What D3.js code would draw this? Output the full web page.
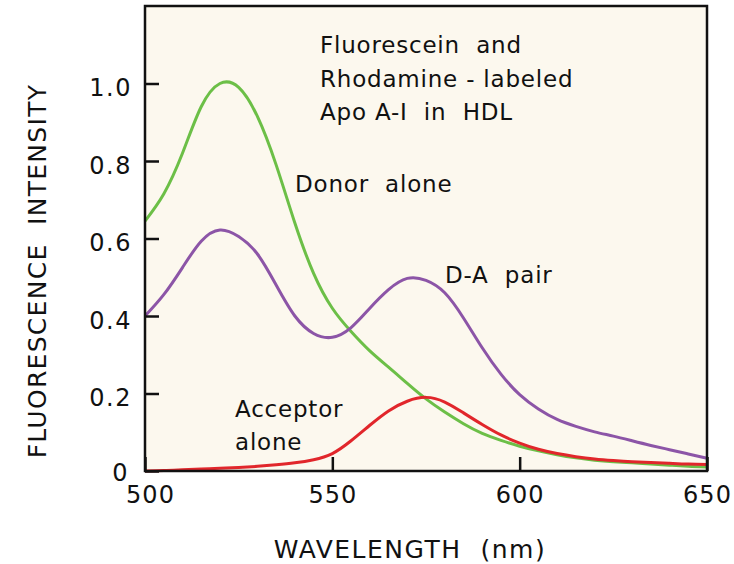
<!DOCTYPE html>
<html>
<head>
<meta charset="utf-8">
<script src="https://cdn.jsdelivr.net/npm/d3@7"></script>
<style>
  html, body { margin: 0; padding: 0; background: #fff; }
  svg { display: block; }
  text { font-family: "DejaVu Sans", sans-serif; fill: #111; white-space: pre; }
</style>
</head>
<body>
<script>
// wavelength grid (nm)
const wavelengths = [500, 505, 510, 515, 520, 525, 530, 535, 540, 545, 550, 555, 560, 565,
  570, 575, 580, 585, 590, 595, 600, 605, 610, 615, 620, 625, 630, 635, 640, 645, 650];

// donor alone (fluorescein)
const donorAlone = [0.645, 0.715, 0.82, 0.94, 1.0, 0.99, 0.915, 0.79, 0.64, 0.51, 0.42, 0.36,
  0.31, 0.268, 0.226, 0.186, 0.152, 0.122, 0.097, 0.079, 0.064, 0.052, 0.042, 0.034, 0.028,
  0.024, 0.021, 0.018, 0.015, 0.012, 0.010];

// donor-acceptor pair
const daPair = [0.40, 0.455, 0.525, 0.593, 0.622, 0.605, 0.56, 0.48, 0.40, 0.355, 0.345, 0.37,
  0.42, 0.468, 0.497, 0.492, 0.46, 0.395, 0.318, 0.25, 0.197, 0.16, 0.133, 0.115, 0.101, 0.09,
  0.078, 0.066, 0.055, 0.044, 0.033];

// acceptor alone (rhodamine)
const acceptorAlone = [0.0, 0.001, 0.003, 0.005, 0.007, 0.009, 0.012, 0.016, 0.021, 0.029, 0.045,
  0.078, 0.118, 0.155, 0.18, 0.19, 0.178, 0.15, 0.12, 0.093, 0.072, 0.056, 0.045, 0.037, 0.031,
  0.027, 0.024, 0.022, 0.02, 0.018, 0.017];

const xTicks = [500, 550, 600, 650];
const yTicks = [0, 0.2, 0.4, 0.6, 0.8, 1.0];

const series = [
  { name: 'Donor alone', values: donorAlone, color: '#6cbf47' },
  { name: 'D-A pair', values: daPair, color: '#8c55a7' },
  { name: 'Acceptor alone', values: acceptorAlone, color: '#e1262b' }
];

const width = 734, height = 564;
const plot = { left: 145, right: 707, top: 6, bottom: 471 };

const svg = d3.select('body').append('svg')
  .attr('width', width)
  .attr('height', height);

const x = d3.scaleLinear().domain([500, 650]).range([plot.left, plot.right]);
const y = d3.scaleLinear().domain([0, 1.2]).range([plot.bottom, plot.top]);

// plot background
svg.append('rect')
  .attr('x', plot.left)
  .attr('y', plot.top)
  .attr('width', plot.right - plot.left)
  .attr('height', plot.bottom - plot.top)
  .style('fill', '#fcf8ee');

// curves
const line = d3.line()
  .x((d, i) => x(wavelengths[i]))
  .y(d => y(d))
  .curve(d3.curveNatural);

svg.append('g')
  .attr('class', 'curves')
  .selectAll('path')
  .data(series)
  .join('path')
  .attr('d', d => line(d.values))
  .style('fill', 'none')
  .style('stroke', d => d.color)
  .style('stroke-width', 3)
  .style('stroke-linejoin', 'round');

// x axis (ticks point inward)
const xAxis = svg.append('g')
  .attr('transform', `translate(0,${plot.bottom})`)
  .call(d3.axisBottom(x)
    .tickValues(xTicks)
    .tickSizeInner(-14)
    .tickSizeOuter(0)
    .tickPadding(15)
    .tickFormat(d3.format('d')));
xAxis.select('.domain').remove();
xAxis.selectAll('line').style('stroke', '#111').style('stroke-width', 2.5);
xAxis.selectAll('text')
  .style('font-size', '24px')
  .style('letter-spacing', '1px')
  .attr('fill', '#111')
  .attr('dx', d => d === 500 ? 5 : 0);

// y axis (ticks point inward)
const yAxis = svg.append('g')
  .attr('transform', `translate(${plot.left},0)`)
  .call(d3.axisLeft(y)
    .tickValues(yTicks)
    .tickSizeInner(-14)
    .tickSizeOuter(0)
    .tickPadding(13)
    .tickFormat(d => d === 0 ? '0' : d3.format('.1f')(d)));
yAxis.select('.domain').remove();
yAxis.selectAll('line').style('stroke', '#111').style('stroke-width', 2.5);
yAxis.selectAll('text')
  .style('font-size', '24px')
  .style('letter-spacing', '1.5px')
  .attr('fill', '#111')
  .attr('dy', d => d === 0 ? '0.4em' : '0.5em')
  .attr('dx', d => d === 0 ? -3 : 0);

// frame
svg.append('rect')
  .attr('x', plot.left)
  .attr('y', plot.top)
  .attr('width', plot.right - plot.left)
  .attr('height', plot.bottom - plot.top)
  .style('fill', 'none')
  .style('stroke', '#111')
  .style('stroke-width', 2.5);

// axis titles
svg.append('text')
  .attr('x', 410)
  .attr('y', 558)
  .attr('text-anchor', 'middle')
  .style('font-size', '25px')
  .style('letter-spacing', '1.5px')
  .text('WAVELENGTH  (nm)');

svg.append('text')
  .attr('transform', 'translate(46,271) rotate(-90)')
  .attr('text-anchor', 'middle')
  .style('font-size', '25px')
  .style('letter-spacing', '1.3px')
  .text('FLUORESCENCE  INTENSITY');

// annotations
const notes = [
  { text: 'Fluorescein  and', x: 320, y: 53 },
  { text: 'Rhodamine - labeled', x: 320, y: 87 },
  { text: 'Apo A-I  in  HDL', x: 320, y: 120 },
  { text: 'Donor  alone', x: 295, y: 192 },
  { text: 'D-A  pair', x: 445, y: 283 },
  { text: 'Acceptor', x: 235, y: 417 },
  { text: 'alone', x: 235, y: 450 }
];

svg.append('g')
  .selectAll('text')
  .data(notes)
  .join('text')
  .attr('x', d => d.x)
  .attr('y', d => d.y)
  .style('font-size', '23px')
  .style('letter-spacing', '0.8px')
  .text(d => d.text);
</script>
</body>
</html>
